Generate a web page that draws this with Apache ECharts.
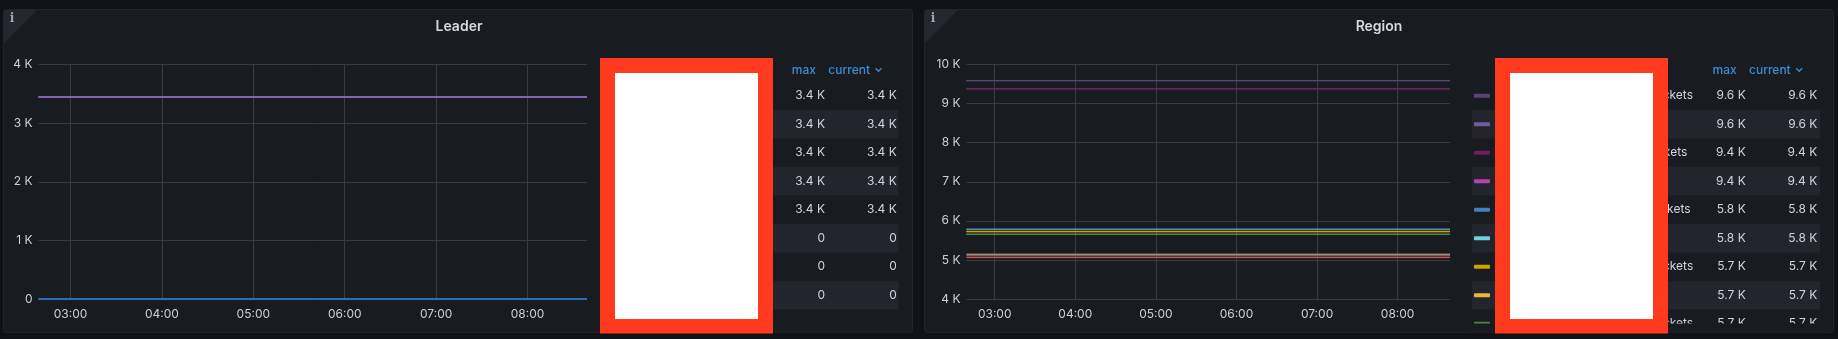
<!DOCTYPE html>
<html>
<head>
<meta charset="utf-8">
<script src="https://cdn.jsdelivr.net/npm/echarts@6/dist/echarts.min.js"></script>
<style>
html,body{margin:0;padding:0;background:#111217;}
#c{width:1838px;height:339px;}
</style>
</head>
<body>
<div id="c"></div>
<script>
// ---------------- data ----------------
const sampleTimes = ['02:39','03:39','04:39','05:39','06:39','07:39','08:39'];
const xTickLabels = ['03:00','04:00','05:00','06:00','07:00','08:00'];
const leaderTickLabels = ['0','1 K','2 K','3 K','4 K'];
const regionTickLabels = ['4 K','5 K','6 K','7 K','8 K','9 K','10 K'];

const leaderNames = ['tikv-1','tikv-2','tikv-3','tikv-4','tikv-5','tiflash-1','tiflash-2','tiflash-3'];
const leaderValues = [
  [3447,3447,3447,3447,3447,3447,3447],
  [3446,3446,3446,3446,3446,3446,3446],
  [3446,3446,3446,3446,3446,3446,3446],
  [3445,3445,3445,3445,3445,3445,3445],
  [3444,3444,3444,3444,3444,3444,3444],
  [0,0,0,0,0,0,0],
  [0,0,0,0,0,0,0],
  [0,0,0,0,0,0,0]
];

const regionNames = [
  'tikv-12-buckets','tikv-12','tikv-7-buckets','tikv-7',
  'tikv-11-buckets','tikv-11','tikv-10-buckets','tikv-10',
  'tikv-13-buckets','tikv-13','tikv-9-buckets','tikv-9',
  'tikv-8-buckets','tikv-8','tikv-14-buckets','tikv-14'
];
const regionValues = [
  [9590,9590,9590,9590,9590,9590,9590],
  [9588,9588,9588,9588,9588,9588,9588],
  [9385,9385,9385,9385,9385,9385,9385],
  [9380,9380,9380,9380,9380,9380,9380],
  [5785,5785,5785,5785,5785,5785,5785],
  [5783,5783,5783,5783,5783,5783,5783],
  [5728,5728,5728,5728,5728,5728,5728],
  [5726,5726,5726,5726,5726,5726,5726],
  [5655,5655,5655,5655,5655,5655,5655],
  [5652,5652,5652,5652,5652,5652,5652],
  [5145,5145,5145,5145,5145,5145,5145],
  [5142,5142,5142,5142,5142,5142,5142],
  [5112,5112,5112,5112,5112,5112,5112],
  [5108,5108,5108,5108,5108,5108,5108],
  [5066,5066,5066,5066,5066,5066,5066],
  [5060,5060,5060,5060,5060,5060,5060]
];

// ---------------- styles ----------------
const leaderColors = ['#8A6BBE','#705DA0','#A352CC','#806EB7','#5A4A7D','#1F78C1','#447EBC','#3274D9'];
const regionColors = ['#584477','#705DA0','#6D1F62','#BA43A9','#447EBC','#6ED0E0','#CCA300','#EAB839',
                      '#508642','#7EB26D','#EF843C','#C15C17','#1F78C1','#0A437C','#E24D42','#890F02'];
const FONT = 'Inter, "Noto Sans", sans-serif';
const TXT = '#d2d3dd';
const AXTXT = '#cdced8';
const BLUE = '#3a8dd6';
const GRIDC = '#393b40';
const PANEL = '#181b1f';
const ROWBG = '#22252b';

// ---------------- helpers ----------------
function toTime(s){ const [h,m]=s.split(':').map(Number); return new Date(2024,0,15,h,m,0).getTime(); }
const times = sampleTimes.map(toTime);
const tMin = times[0], tMax = times[times.length-1];
function fmtK(v){ return v===0 ? '0' : (Math.round(v/100)/10).toFixed(1)+' K'; }
function pad(n){ return (n<10?'0':'')+n; }

const mctx = document.createElement('canvas').getContext('2d');
mctx.font = '12px ' + FONT;
function textW(s){ return mctx.measureText(s).width; }

function makeSeries(names, values, colors, axisIdx){
  const out = [];
  for (let i = names.length-1; i >= 0; i--) {
    out.push({
      name: names[i], type: 'line', xAxisIndex: axisIdx, yAxisIndex: axisIdx,
      data: values[i].map((v,k)=>[times[k], v]),
      showSymbol: false, symbol: 'none', clip: false,
      lineStyle: {width: 1.2, color: colors[i]}, itemStyle: {color: colors[i]},
      emphasis: {disabled: true}, silent: true
    });
  }
  return out;
}

function xAxis(g){
  return {
    type: 'time', gridIndex: g, min: tMin, max: tMax,
    minInterval: 3600000, maxInterval: 3600000,
    axisLine: {show: false}, axisTick: {show: false},
    splitLine: {show: true, showMinLine: false, showMaxLine: false, lineStyle: {color: GRIDC, width: 1}},
    axisLabel: {
      color: AXTXT, fontSize: 12, fontFamily: FONT, margin: 9,
      showMinLabel: false, showMaxLabel: false,
      formatter: function(v){
        const d = new Date(v); const s = pad(d.getHours())+':'+pad(d.getMinutes());
        return xTickLabels.indexOf(s) >= 0 ? s : '';
      }
    }
  };
}
function yAxis(g, min, max, labels){
  return {
    type: 'value', gridIndex: g, min: min, max: max, interval: 1000,
    axisLine: {show: false}, axisTick: {show: false},
    splitLine: {show: true, lineStyle: {color: GRIDC, width: 1}},
    axisLabel: {color: AXTXT, fontSize: 12, fontFamily: FONT, margin: 6,
      formatter: function(v){ return labels[Math.round((v-min)/1000)]; }}
  };
}

// ---------------- graphic (panels, titles, legend tables) ----------------
const G = [];
function panel(x, title, titleX){
  G.push({type:'rect', z:-10, silent:true, shape:{x:x+0.5, y:9.5, width:909, height:323, r:3},
          style:{fill:PANEL, stroke:'#23252a', lineWidth:1}});
  G.push({type:'polygon', z:-9, silent:true, shape:{points:[[x+1,10],[x+34,10],[x+1,43]]},
          style:{fill:'#24272d'}});
  G.push({type:'text', z:-8, silent:true, x:x+9, y:18.5,
          style:{text:'i', fill:'#a4a6ad', font:'bold 12px "DejaVu Serif", serif', textAlign:'center', textVerticalAlign:'middle'}});
  G.push({type:'text', z:-8, silent:true, x:titleX, y:27,
          style:{text:title, fill:'#d8d9e0', font:'600 14px '+FONT, textAlign:'center', textVerticalAlign:'middle'}});
}
function legendTable(opt){
  const rows = opt.names.map((n,i)=>({name:n, color:opt.colors[i], vals:opt.values[i]}));
  rows.sort((a,b)=> b.vals[b.vals.length-1] - a.vals[a.vals.length-1]);
  G.push({type:'text', z:5, silent:true, x:opt.hMax, y:70,
          style:{text:'max', fill:BLUE, font:'500 12px '+FONT, textAlign:'right', textVerticalAlign:'middle'}});
  G.push({type:'text', z:5, silent:true, x:opt.hCur, y:70,
          style:{text:'current', fill:BLUE, font:'500 12px '+FONT, textAlign:'right', textVerticalAlign:'middle'}});
  const cx = opt.hCur + 8.5;
  G.push({type:'polyline', z:5, silent:true, shape:{points:[[cx-3,68.3],[cx,71.3],[cx+3,68.3]]},
          style:{stroke:BLUE, lineWidth:1.3, fill:null}});
  const nameX = opt.nameEnd - textW(opt.refName);
  rows.forEach((r,i)=>{
    const cy = 95.8 + i*28.5;
    if (cy - 14.25 > 323) return;
    if (i % 2 === 1) {
      G.push({type:'rect', z:-5, silent:true, shape:{x:opt.x0, y:cy-14.25, width:opt.x1-opt.x0, height:28.5},
              style:{fill:ROWBG}});
    }
    G.push({type:'rect', z:5, silent:true, shape:{x:opt.x0+2, y:cy-2, width:16, height:4, r:1}, style:{fill:r.color}});
    G.push({type:'text', z:5, silent:true, x:nameX, y:cy,
            style:{text:r.name, fill:TXT, font:'12px '+FONT, textAlign:'left', textVerticalAlign:'middle'}});
    G.push({type:'text', z:5, silent:true, x:opt.vMax, y:cy,
            style:{text:fmtK(Math.max.apply(null, r.vals)), fill:TXT, font:'12px '+FONT, textAlign:'right', textVerticalAlign:'middle'}});
    G.push({type:'text', z:5, silent:true, x:opt.vCur, y:cy,
            style:{text:fmtK(r.vals[r.vals.length-1]), fill:TXT, font:'12px '+FONT, textAlign:'right', textVerticalAlign:'middle'}});
  });
  G.push({type:'rect', z:50, silent:true, shape:{x:opt.x0-2, y:323.5, width:opt.x1-opt.x0+10, height:9}, style:{fill:PANEL}});
}
function redact(x){
  G.push({type:'rect', z:100, silent:true, shape:{x:x, y:58, width:173, height:275.5}, style:{fill:'#ff3a1f'}});
  G.push({type:'rect', z:101, silent:true, shape:{x:x+15, y:73, width:143, height:246}, style:{fill:'#ffffff'}});
}

panel(3, 'Leader', 459);
panel(924, 'Region', 1379);
legendTable({names:leaderNames, values:leaderValues, colors:leaderColors,
  x0:609, x1:898.5, hMax:816, hCur:870, vMax:825, vCur:896.8, nameEnd:700, refName:leaderNames[0]});
legendTable({names:regionNames, values:regionValues, colors:regionColors,
  x0:1472, x1:1820, hMax:1736.7, hCur:1790.7, vMax:1745.7, vCur:1817.3, nameEnd:1693, refName:'tikv-12-buckets'});
redact(600);
redact(1495);

// ---------------- chart ----------------
const chart = echarts.init(document.getElementById('c'), null, {renderer:'canvas', width:1838, height:339});
chart.setOption({
  animation: false,
  textStyle: {fontFamily: FONT},
  grid: [
    {left: 38.5, top: 64.5, width: 548.5, height: 234.5},
    {left: 966.5, top: 64.5, width: 483.5, height: 234.5}
  ],
  xAxis: [xAxis(0), xAxis(1)],
  yAxis: [yAxis(0, 0, 4000, leaderTickLabels), yAxis(1, 4000, 10000, regionTickLabels)],
  series: makeSeries(leaderNames, leaderValues, leaderColors, 0)
            .concat(makeSeries(regionNames, regionValues, regionColors, 1)),
  graphic: {elements: G}
});
</script>
</body>
</html>
